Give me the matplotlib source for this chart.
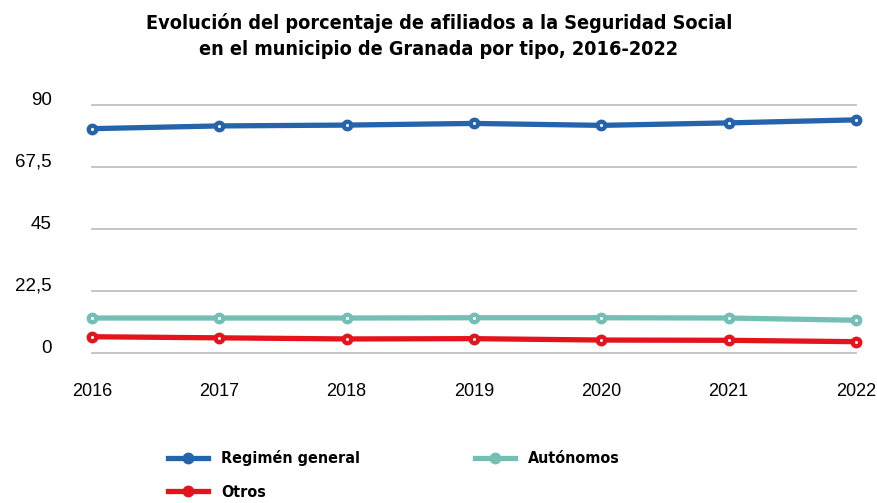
import matplotlib.pyplot as plt
from matplotlib.lines import Line2D

# datos
years = [2016, 2017, 2018, 2019, 2020, 2021, 2022]
regimen = [81.4, 82.4, 82.7, 83.3, 82.6, 83.5, 84.6]
autonomos = [12.6, 12.6, 12.6, 12.7, 12.7, 12.6, 11.8]
otros = [5.8, 5.4, 5.0, 5.1, 4.6, 4.5, 4.0]

yticks = [0, 22.5, 45, 67.5, 90]
ytick_labels = ['0', '22,5', '45', '67,5', '90']

series = [
    ('Regimén general', regimen, '#2563AA'),
    ('Autónomos', autonomos, '#74BFB4'),
    ('Otros', otros, '#E5131C'),
]

regular = ['Liberation Sans', 'DejaVu Sans']

fig = plt.figure(figsize=(8.78, 5.03), dpi=100)
ax = fig.add_axes([92 / 878, 1 - 352.7 / 503, (856 - 92) / 878, (352.7 - 105) / 503])

for name, vals, color in series:
    ax.plot(years, vals, color=color, lw=3.8, marker='o', ms=7.5,
            clip_on=False, zorder=3, solid_capstyle='round')
    ax.plot(years, vals, ls='none', marker='o', ms=1.2, color='white',
            clip_on=False, zorder=4)

ax.set_xlim(2016, 2022)
ax.set_ylim(0, 90)
ax.set_xticks(years)
ax.set_xticklabels([str(y) for y in years], fontsize=13, family=regular)
ax.set_yticks(yticks)
ax.set_yticklabels(ytick_labels, fontsize=13.5, family=regular)
for lbl in ax.get_yticklabels():
    lbl.set_verticalalignment('baseline')

ax.tick_params(axis='y', length=0, pad=29)
ax.tick_params(axis='x', length=0, pad=22)
ax.grid(axis='y', color='#BFBFBF', lw=1.3)
for gl in ax.yaxis.get_gridlines():
    gl.set_clip_on(False)
ax.set_axisbelow(True)
for s in ax.spines.values():
    s.set_visible(False)

fig.text(0.5, 0.928, 'Evolución del porcentaje de afiliados a la Seguridad Social\n'
         'en el municipio de Granada por tipo, 2016-2022',
         ha='center', va='center', fontsize=14.2, fontweight='bold',
         family='DejaVu Sans', fontstretch='condensed', linespacing=1.5)

handles = [Line2D([], [], color=c, lw=3.8, marker='o', ms=7.5) for _, _, c in series]
labels = [n for n, _, _ in series]
order = [0, 2, 1]
fig.legend([handles[i] for i in order], [labels[i] for i in order],
           ncol=2, loc='upper left', bbox_to_anchor=(154 / 878, 1 - 436 / 503),
           frameon=False, handlelength=2.5, handletextpad=0.8,
           columnspacing=7.2, labelspacing=1.15,
           prop={'family': 'DejaVu Sans', 'stretch': 'condensed',
                 'weight': 'bold', 'size': 11.5})

fig.savefig('out.png', dpi=100)
